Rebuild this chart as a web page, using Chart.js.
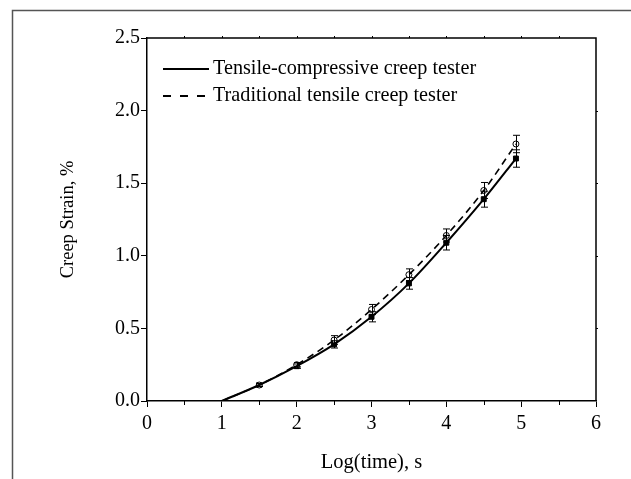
<!DOCTYPE html>
<html>
<head>
<meta charset="utf-8">
<script src="https://cdn.jsdelivr.net/npm/chart.js@4/dist/chart.umd.min.js"></script>
<style>
  body { margin: 0; background: #fff; }
  canvas { display: block; }
</style>
</head>
<body>
<canvas id="creepChart" width="631" height="479"></canvas>
<script>
// log(time) of the measured points
var timeLog = [1.5, 2, 2.5, 3, 3.5, 4, 4.5, 4.93];

// tensile-compressive creep tester (solid, filled squares)
var tcStrain = [0.11, 0.24, 0.39, 0.58, 0.81, 1.09, 1.39, 1.67];
var tcError  = [0.01, 0.015, 0.025, 0.035, 0.04, 0.05, 0.055, 0.06];

// traditional tensile creep tester (dashed, open circles)
var ttStrain = [0.11, 0.25, 0.42, 0.63, 0.87, 1.14, 1.45, 1.77];
var ttError  = [0.01, 0.015, 0.03, 0.035, 0.04, 0.045, 0.055, 0.06];

// curves start at zero strain at log(time) = 1
var curveStart = 1;

var xTicks = [0, 1, 2, 3, 4, 5, 6];
var yTicks = [0.0, 0.5, 1.0, 1.5, 2.0, 2.5];

var legendLabels = ['Tensile-compressive creep tester', 'Traditional tensile creep tester'];

var serif = 'Liberation Serif, Times New Roman, serif';

function toPoints(xs, ys) {
	var pts = [];
	for (var i = 0; i < xs.length; i++) {
		pts.push({ x: xs[i], y: ys[i] });
	}
	return pts;
}

var tcCurve = [{ x: curveStart, y: 0 }].concat(toPoints(timeLog, tcStrain));
var ttCurve = [{ x: curveStart, y: 0 }].concat(toPoints(timeLog, ttStrain));

// outer box round the whole figure
var frame = {
	id: 'frame',
	beforeDraw: function(chart) {
		var c = chart.ctx;
		c.save();
		c.fillStyle = '#fff';
		c.fillRect(0, 0, chart.width, chart.height);
		c.strokeStyle = '#555';
		c.lineWidth = 1.5;
		c.strokeRect(12.5, 10.5, chart.width + 20, chart.height + 20);
		c.restore();
	},
	afterDraw: function(chart) {
		var a = chart.chartArea;
		var x = chart.scales.x, y = chart.scales.y;
		var c = chart.ctx;
		c.save();
		c.strokeStyle = '#000';
		c.lineWidth = 1.5;
		c.beginPath();
		c.moveTo(a.left, a.top);
		c.lineTo(a.right, a.top);
		c.lineTo(a.right, a.bottom);
		c.stroke();
		// minor ticks on bottom axis, small ticks on top and right
		c.lineWidth = 1;
		for (var v = 0.5; v < 6; v += 1) {
			var px = Math.round(x.getPixelForValue(v)) + 0.5;
			c.beginPath();
			c.moveTo(px, a.bottom);
			c.lineTo(px, a.bottom + 4);
			c.stroke();
		}
		for (var t = 0.5; t < 6; t += 0.5) {
			var tx = Math.round(x.getPixelForValue(t)) + 0.5;
			c.beginPath();
			c.moveTo(tx, a.top);
			c.lineTo(tx, a.top - 2);
			c.stroke();
		}
		for (var s = 0.5; s < 2.5; s += 0.5) {
			var ty = Math.round(y.getPixelForValue(s)) + 0.5;
			c.beginPath();
			c.moveTo(a.right, ty);
			c.lineTo(a.right + 2, ty);
			c.stroke();
		}
		c.restore();
	}
};

// vertical error bars with caps
var errorBars = {
	id: 'errorBars',
	afterDatasetsDraw: function(chart) {
		var c = chart.ctx;
		var x = chart.scales.x, y = chart.scales.y;
		c.save();
		c.strokeStyle = '#000';
		c.lineWidth = 1;
		chart.data.datasets.forEach(function(ds) {
			if (!ds.errors) return;
			ds.data.forEach(function(p, i) {
				var px = Math.round(x.getPixelForValue(p.x)) + 0.5;
				var top = y.getPixelForValue(p.y + ds.errors[i]);
				var bot = y.getPixelForValue(p.y - ds.errors[i]);
				c.beginPath();
				c.moveTo(px, top);
				c.lineTo(px, bot);
				c.moveTo(px - 3.5, top);
				c.lineTo(px + 3.5, top);
				c.moveTo(px - 3.5, bot);
				c.lineTo(px + 3.5, bot);
				c.stroke();
			});
		});
		c.restore();
	}
};

// legend inside the plot, top left
var lineLegend = {
	id: 'lineLegend',
	afterDraw: function(chart) {
		var c = chart.ctx;
		var rows = [
			{ text: legendLabels[0], dash: [], y: 69 },
			{ text: legendLabels[1], dash: [8, 9], y: 96 }
		];
		c.save();
		c.strokeStyle = '#000';
		c.fillStyle = '#000';
		c.lineWidth = 2;
		c.font = '20.2px ' + serif;
		c.textBaseline = 'middle';
		rows.forEach(function(r) {
			c.setLineDash(r.dash);
			c.beginPath();
			c.moveTo(163, r.y);
			c.lineTo(209, r.y);
			c.stroke();
			c.fillText(r.text, 213, r.y);
		});
		c.restore();
	}
};

new Chart(document.getElementById('creepChart'), {
	type: 'scatter',
	data: {
		datasets: [
			{
				type: 'line',
				data: tcCurve,
				borderColor: '#000',
				borderWidth: 2,
				pointRadius: 0,
				tension: 0.4,
				cubicInterpolationMode: 'monotone',
				fill: false
			},
			{
				type: 'line',
				data: ttCurve,
				borderColor: '#000',
				borderWidth: 1.6,
				borderDash: [7, 5],
				pointRadius: 0,
				tension: 0.4,
				cubicInterpolationMode: 'monotone',
				fill: false
			},
			{
				data: toPoints(timeLog, ttStrain),
				errors: ttError,
				pointStyle: 'circle',
				pointRadius: 3,
				backgroundColor: '#fff',
				borderColor: '#000',
				borderWidth: 1
			},
			{
				data: toPoints(timeLog, tcStrain),
				errors: tcError,
				pointStyle: 'rect',
				pointRadius: 3.5,
				backgroundColor: '#000',
				borderColor: '#000',
				borderWidth: 1
			}
		]
	},
	options: {
		responsive: false,
		animation: false,
		events: [],
		layout: { padding: { top: 38, right: 35, left: 0, bottom: 0 } },
		plugins: {
			legend: { display: false },
			tooltip: { enabled: false }
		},
		scales: {
			x: {
				type: 'linear',
				min: 0,
				max: 6,
				afterBuildTicks: function(scale) {
					scale.ticks = xTicks.map(function(v) { return { value: v }; });
				},
				afterFit: function(scale) { scale.height = 78; },
				ticks: {
					color: '#000',
					font: { family: serif, size: 20 },
					padding: 5,
					maxRotation: 0,
					autoSkip: false
				},
				grid: { drawOnChartArea: false, color: '#000', tickLength: 6, lineWidth: 1 },
				border: { color: '#000', width: 1.5 },
				title: {
					display: true,
					text: 'Log(time), s',
					color: '#000',
					font: { family: serif, size: 20.5 },
					padding: { top: 8 }
				}
			},
			y: {
				min: 0,
				max: 2.5,
				afterBuildTicks: function(scale) {
					scale.ticks = yTicks.map(function(v) { return { value: v }; });
				},
				afterFit: function(scale) { scale.width = 147; },
				ticks: {
					color: '#000',
					font: { family: serif, size: 20 },
					padding: 1,
					callback: function(v) { return Number(v).toFixed(1); }
				},
				grid: { drawOnChartArea: false, color: '#000', tickLength: 6, lineWidth: 1 },
				border: { color: '#000', width: 1.5 },
				title: {
					display: true,
					text: 'Creep Strain, %',
					color: '#000',
					font: { family: serif, size: 18.5 },
					padding: { top: 57, bottom: 0 }
				}
			}
		}
	},
	plugins: [frame, errorBars, lineLegend]
});
</script>
</body>
</html>
